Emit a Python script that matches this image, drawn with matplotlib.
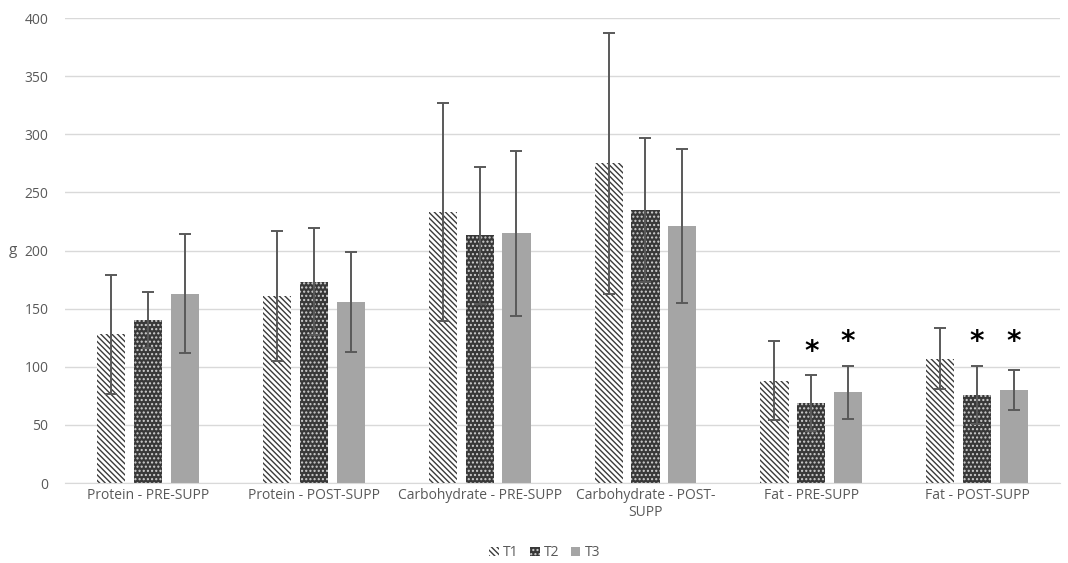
import matplotlib
matplotlib.use("Agg")
import matplotlib.pyplot as plt
import numpy as np
from matplotlib.patches import Patch

categories = ["Protein - PRE-SUPP", "Protein - POST-SUPP", "Carbohydrate - PRE-SUPP",
              "Carbohydrate - POST-\nSUPP", "Fat - PRE-SUPP", "Fat - POST-SUPP"]
series = ["T1", "T2", "T3"]
t1 = [128, 161, 233, 275, 88, 107]
t2 = [140, 173, 213, 235, 69, 76]
t3 = [163, 156, 215, 221, 78, 80]
t1_err = [51, 56, 94, 112, 34, 26]
t2_err = [24, 46, 59, 62, 24, 25]
t3_err = [51, 43, 71, 66, 23, 17]
# asterisks: (category index, series index, y)
stars_cat = [4, 4, 5, 5]
stars_ser = [1, 2, 1, 2]
stars_y = [101, 109, 109, 109]

plt.rcParams['font.family'] = ['Open Sans', 'DejaVu Sans']
plt.rcParams['hatch.linewidth'] = 1.0

fig = plt.figure(figsize=(10.68, 5.63), dpi=100)
ax = fig.add_axes([0.061, 0.142, 0.9315, 0.826])

x = np.arange(len(categories))
w = 0.17
off = 0.222
txtc = '#595959'
errc = '#595959'

vals = [t1, t2, t3]
errs = [t1_err, t2_err, t3_err]
styles = [
    dict(facecolor='white', edgecolor='#3a3a3a', hatch='\\\\\\\\\\\\', linewidth=0),
    dict(facecolor='#383838', edgecolor='#d0d0d0', hatch='....', linewidth=0),
    dict(facecolor='#a5a5a5', edgecolor='#a5a5a5', hatch=None, linewidth=0),
]
for i in range(3):
    pos = x + (i - 1) * off
    ax.bar(pos, vals[i], w, zorder=2, **styles[i])
    ax.errorbar(pos, vals[i], yerr=errs[i], fmt='none', ecolor=errc, elinewidth=1.4,
                capsize=4, capthick=1.4, zorder=3)

for c, s, y in zip(stars_cat, stars_ser, stars_y):
    ax.text(x[c] + (s - 1) * off, y, '*', ha='center', va='bottom', fontsize=20,
            fontweight='bold', color='black', family='DejaVu Sans')

ax.set_xlim(-0.5, 5.5)
ax.set_ylim(0, 400)
ax.set_yticks(np.arange(0, 401, 50))
ax.yaxis.grid(True, color='#d9d9d9', linewidth=1)
ax.set_axisbelow(True)
for s in ['top', 'right', 'left']:
    ax.spines[s].set_visible(False)
ax.spines['bottom'].set_color('#d9d9d9')
ax.tick_params(axis='both', length=0, colors=txtc, labelsize=10)
ax.tick_params(axis='y', pad=12)
ax.set_xticks(x)
ax.set_xticklabels(categories, color=txtc)
ax.set_ylabel('g', rotation=0, color=txtc, fontsize=11, labelpad=8, va='center')

handles = [Patch(**styles[i], label=series[i]) for i in range(3)]
leg = fig.legend(handles=handles, loc='center', bbox_to_anchor=(0.51, 0.018), ncol=3,
                 frameon=False, fontsize=10, handlelength=0.7, handleheight=0.7,
                 handletextpad=0.3, columnspacing=0.8)
for t in leg.get_texts():
    t.set_color(txtc)

fig.savefig('out.png', dpi=100)
